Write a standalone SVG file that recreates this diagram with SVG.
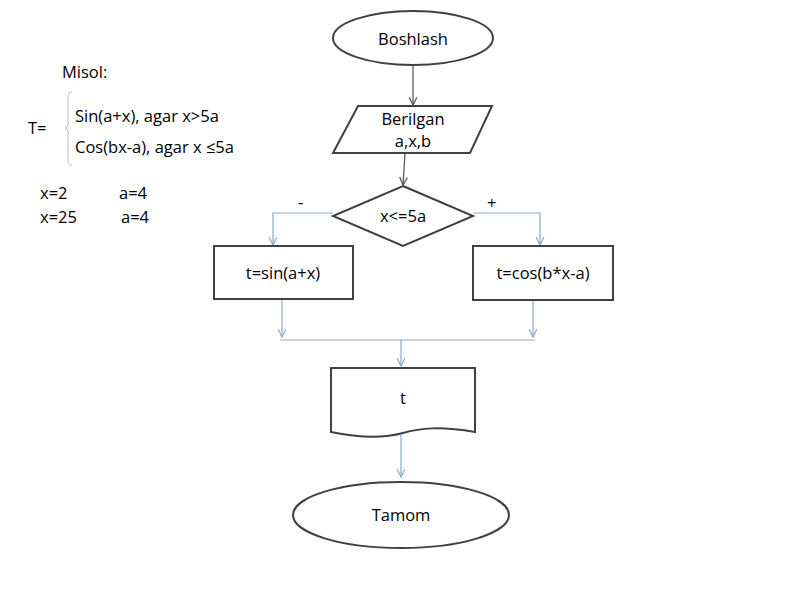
<svg xmlns="http://www.w3.org/2000/svg" width="800" height="600" viewBox="0 0 800 600">
<defs>
<marker id="a" viewBox="0 0 10 10" refX="9" refY="5" markerWidth="8" markerHeight="8" orient="auto"><path d="M1,1 L9,5 L1,9" fill="none" stroke="#8ea9c8" stroke-width="1.3"/></marker>
<marker id="d" viewBox="0 0 10 10" refX="9" refY="5" markerWidth="8" markerHeight="8" orient="auto"><path d="M1,1 L9,5 L1,9" fill="none" stroke="#555" stroke-width="1.3"/></marker>
</defs>
<style>
text{font-family:"Open Sans","Liberation Sans",sans-serif;font-size:16.5px;fill:#000}
.s{fill:#fff;stroke:#404040;stroke-width:2}
.c{fill:none;stroke:#8ea9c8;stroke-width:1.2}
.k{fill:none;stroke:#555;stroke-width:1.2}
.m{text-anchor:middle}
</style>
<rect width="800" height="600" fill="#fff"/>
<g id="formula">
<text x="62" y="78">Misol:</text>
<text x="28" y="134">T=</text>
<path d="M72,92 Q68,92 68,98 L68,124 Q68,128 65,128 Q68,128 68,132 L68,160 Q68,165 72,165" fill="none" stroke="#bbb" stroke-width="1"/>
<text x="75" y="122">Sin(a+x), agar x&gt;5a</text>
<text x="75" y="153">Cos(bx-a), agar x ≤5a</text>
<text x="40" y="199">x=2</text><text x="119" y="199">a=4</text>
<text x="40" y="223">x=25</text><text x="121" y="223">a=4</text>
</g>
<g id="connectors">
<path class="k" d="M413,65 L413,105" marker-end="url(#d)"/>
<path class="k" d="M405,153 L403,185" marker-end="url(#d)"/>
<path class="c" d="M333,213 L273,213 L273,245" marker-end="url(#a)"/>
<path class="c" d="M473,213 L540,213 L540,245" marker-end="url(#a)"/>
<path class="c" d="M282,299 L282,337" marker-end="url(#a)"/>
<path class="c" d="M533,300 L533,337" marker-end="url(#a)"/>
<path class="c" d="M280,340 L535,340"/>
<path class="c" d="M401,340 L401,366" marker-end="url(#a)"/>
<path class="c" d="M401,435 L401,477" marker-end="url(#a)"/>
<text x="298" y="208">-</text>
<text x="487" y="209">+</text>
</g>
<g id="start"><ellipse class="s" cx="413" cy="38" rx="80" ry="27"/><text class="m" x="413" y="45" font-size="19">Boshlash</text></g>
<g id="input"><polygon class="s" points="358,106 492,106 470,153 333,153"/><text class="m" x="413" y="125">Berilgan</text><text class="m" x="413" y="147">a,x,b</text></g>
<g id="decision"><polygon class="s" points="403,186 473,216 403,246 333,216"/><text class="m" x="403" y="222">x&lt;=5a</text></g>
<g id="sin"><rect class="s" x="214" y="246" width="139" height="53"/><text class="m" x="283" y="279">t=sin(a+x)</text></g>
<g id="cos"><rect class="s" x="473" y="246" width="140" height="54"/><text class="m" x="543" y="279">t=cos(b*x-a)</text></g>
<g id="output"><path class="s" d="M331,368 L475,368 L475,432 C440,426 420,428 403,433 C385,438 360,438 331,432 Z"/><text class="m" x="403" y="404">t</text></g>
<g id="end"><ellipse class="s" cx="401" cy="515" rx="108" ry="33"/><text class="m" x="401" y="521">Tamom</text></g>
</svg>
